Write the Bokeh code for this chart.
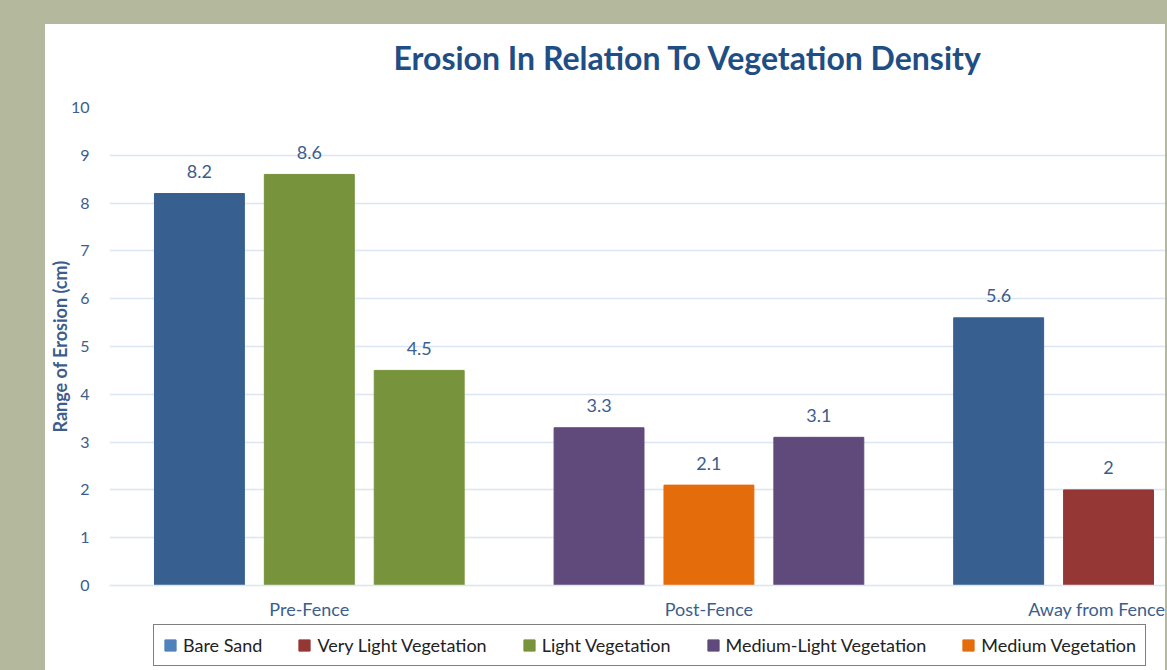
from bokeh.plotting import figure
from bokeh.layouts import column
from bokeh.models import ColumnDataSource, Range1d, FixedTicker, Legend, LegendItem, Title
from bokeh.core.properties import value
from bokeh.embed import file_html
from bokeh.resources import INLINE

categories = ["Pre-Fence", "Post-Fence", "Away from Fence"]
series_names = ["Bare Sand", "Very Light Vegetation", "Light Vegetation",
                "Medium-Light Vegetation", "Medium Vegetation"]
bar_colors = ["#375F90", "#953735", "#77933C", "#604A7B", "#E46C0A"]
legend_colors = ["#4F81BD", "#953735", "#77933C", "#604A7B", "#E46C0A"]

bar_category = [0, 0, 0, 1, 1, 1, 2, 2]
bar_slot = [0, 1, 2, 0, 1, 2, 0, 1]
bar_series = ["Bare Sand", "Light Vegetation", "Light Vegetation",
              "Medium-Light Vegetation", "Medium Vegetation", "Medium-Light Vegetation",
              "Bare Sand", "Very Light Vegetation"]
values = [8.2, 8.6, 4.5, 3.3, 2.1, 3.1, 5.6, 2]
labels = ["8.2", "8.6", "4.5", "3.3", "2.1", "3.1", "5.6", "2"]
title_text = "Erosion In Relation To Vegetation Density"

SLOT_STEP = 0.275
BAR_W = 0.225
xs = [c + 0.5 + (s - 1) * SLOT_STEP for c, s in zip(bar_category, bar_slot)]
colors = [bar_colors[series_names.index(n)] for n in bar_series]

src = ColumnDataSource(dict(x=xs, top=values, color=colors, label=labels, series=bar_series))

TXT = "#3B5E8C"
TITLE = "#1F4E85"
FONT = "Lato"
W = 1120

p = figure(width=W, height=598, output_backend="svg", toolbar_location=None,
           x_range=Range1d(0, (W - 63) / 400), y_range=Range1d(0, 10),
           min_border_left=63, min_border_right=0, min_border_top=83, min_border_bottom=35,
           background_fill_color="white", border_fill_color="white",
           outline_line_color=None)

# spacer between title and plot area, then the title itself
spacer = Title(text=" ", text_font_size="10px", standoff=18)
p.add_layout(spacer, "above")
main_title = Title(text=title_text, text_font=FONT, text_font_style="bold",
                   text_font_size="32px", text_color=TITLE, align="left",
                   vertical_align="bottom", offset=284, standoff=0)
p.add_layout(main_title, "above")

p.vbar(x="x", top="top", width=BAR_W, bottom=0, color="color", source=src)
p.text(x="x", y="top", text="label", source=src, text_align="center",
       text_baseline="middle", y_offset=-22, text_font=value(FONT),
       text_font_size="18px", text_color=TXT)

p.yaxis.ticker = FixedTicker(ticks=list(range(0, 11)))
p.yaxis.axis_line_color = None
p.yaxis.major_tick_line_color = None
p.yaxis.minor_tick_line_color = None
p.yaxis.major_label_standoff = 14
p.yaxis.major_label_text_font = FONT
p.yaxis.major_label_text_font_size = "16px"
p.yaxis.major_label_text_color = TXT
p.yaxis.axis_label = "Range of Erosion (cm)"
p.yaxis.axis_label_text_font = FONT
p.yaxis.axis_label_text_font_style = "bold"
p.yaxis.axis_label_text_font_size = "18px"
p.yaxis.axis_label_text_color = TXT
p.yaxis.axis_label_standoff = -3

p.xaxis.ticker = FixedTicker(ticks=[i + 0.5 for i in range(len(categories))])
p.xaxis.major_label_overrides = {i + 0.5: c for i, c in enumerate(categories)}
p.xaxis.axis_line_color = "#DCE6F2"
p.xaxis.axis_line_width = 1.5
p.xaxis.major_tick_line_color = None
p.xaxis.minor_tick_line_color = None
p.xaxis.major_label_standoff = 6
p.xaxis.major_label_text_font = FONT
p.xaxis.major_label_text_font_size = "18px"
p.xaxis.major_label_text_color = TXT

p.xgrid.grid_line_color = None
p.ygrid.grid_line_color = "#DCE6F2"
p.ygrid.grid_line_width = 1.5

# legend strip below the chart
lf = figure(width=W, height=48, output_backend="svg", toolbar_location=None,
            x_axis_type=None, y_axis_type=None, min_border=0,
            background_fill_color="white", border_fill_color="white",
            outline_line_color=None)
lf.xgrid.grid_line_color = None
lf.ygrid.grid_line_color = None

nan = float("nan")
items = []
for name, col in zip(series_names, legend_colors):
    r = lf.rect(x=[nan], y=[nan], width=1, height=1, color=col)
    items.append(LegendItem(label=name, renderers=[r]))

legend = Legend(items=items, orientation="horizontal", location=(44, 4),
                border_line_color="black", border_line_width=1.5,
                label_text_font=FONT, label_text_font_size="18px", label_text_color="#222222",
                glyph_width=14, glyph_height=14, label_standoff=6, spacing=35,
                padding=9, margin=0, background_fill_color="white")
lf.add_layout(legend, "center")

root = column(p, lf, spacing=0, styles={"background-color": "white"})

html = file_html(root, INLINE)
html = html.replace("</head>", "<style>body{background-color:#B4B89C;padding:24px 0 0 45px;}</style></head>")
open("out.html", "w").write(html)
